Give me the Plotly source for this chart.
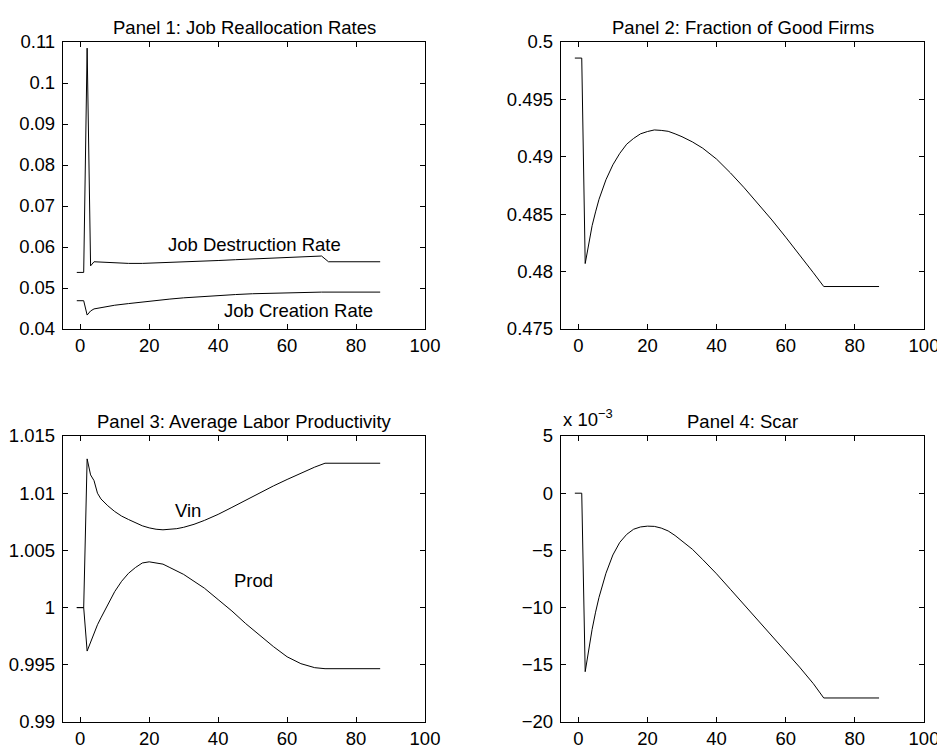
import plotly.graph_objects as go

# ---------------- data ----------------
# Panel 1: Job Reallocation Rates
destr_x = [-1, 0, 1, 2, 3, 4, 6, 8, 10, 14, 18, 22, 26, 30, 35, 40, 45, 50, 55, 60, 65, 70, 71, 72, 87]
destr_y = [0.0538, 0.0538, 0.0538, 0.1085, 0.0554, 0.0564, 0.0563, 0.0562, 0.0561, 0.0560, 0.0560,
           0.0561, 0.0562, 0.0563, 0.0565, 0.0567, 0.0569, 0.0571, 0.0573, 0.0575, 0.0577, 0.0578,
           0.0571, 0.0564, 0.0564]
creat_x = [-1, 0, 1, 2, 3, 4, 6, 8, 10, 14, 18, 22, 26, 30, 35, 40, 45, 50, 55, 60, 65, 70, 87]
creat_y = [0.0469, 0.0469, 0.0469, 0.0434, 0.0444, 0.0449, 0.0452, 0.0455, 0.0458, 0.0462, 0.0466,
           0.0470, 0.0473, 0.0476, 0.0479, 0.0482, 0.0484, 0.0486, 0.0487, 0.0488, 0.0489, 0.0490,
           0.0490]

# Panel 2: Fraction of Good Firms
good_x = [-1, 0, 1, 2, 3, 4, 5, 6, 8, 10, 12, 14, 16, 18, 20, 22, 24, 26, 28, 30, 33, 36, 40, 44,
          48, 52, 56, 60, 64, 68, 71, 87]
good_y = [0.4986, 0.4986, 0.4986, 0.4807, 0.4825, 0.4840, 0.4852, 0.4863, 0.4880, 0.4893, 0.4903,
          0.4911, 0.4916, 0.4920, 0.4922, 0.49234, 0.4923, 0.49222, 0.4920, 0.49175, 0.4913, 0.49075,
          0.4898, 0.4886, 0.4873, 0.4859, 0.4845, 0.4830, 0.4815, 0.4799, 0.4787, 0.4787]

# Panel 3: Average Labor Productivity
prod_x = [-1, 0, 1, 2, 3, 4, 5, 6, 8, 10, 12, 14, 16, 18, 20, 22, 24, 26, 28, 30, 33, 36, 40, 44,
          48, 52, 56, 60, 64, 68, 71, 87]
vin_y = [1.0, 1.0, 1.0, 1.0130, 1.0116, 1.0111, 1.0100, 1.0095, 1.0089, 1.0084, 1.0080, 1.0077,
         1.00742, 1.00715, 1.00697, 1.00685, 1.00680, 1.00682, 1.00690, 1.00702, 1.00728, 1.00762,
         1.00815, 1.00876, 1.0094, 1.01003, 1.01063, 1.01120, 1.01175, 1.01228, 1.01262, 1.01262]
prod_y = [1.0, 1.0, 1.0, 0.9962, 0.9970, 0.9977, 0.9985, 0.9991, 1.0003, 1.0014, 1.0023, 1.0030,
          1.0035, 1.0039, 1.0040, 1.0039, 1.0038, 1.0035, 1.0032, 1.0029, 1.0023, 1.0017, 1.0007,
          0.9997, 0.9986, 0.9976, 0.9966, 0.9957, 0.9951, 0.99475, 0.99466, 0.99466]

# Panel 4: Scar (units of 1e-3)
scar_x = [-1, 0, 1, 2, 3, 4, 5, 6, 8, 10, 12, 14, 16, 18, 20, 22, 24, 26, 28, 30, 33, 36, 40, 44,
          48, 52, 56, 60, 64, 68, 71, 87]
scar_y = [0.0, 0.0, 0.0, -15.6, -13.6, -11.9, -10.4, -9.1, -7.0, -5.4, -4.3, -3.6, -3.15, -2.95,
          -2.88, -2.9, -3.05, -3.3, -3.7, -4.15, -4.9, -5.8, -7.05, -8.4, -9.75, -11.1, -12.45,
          -13.8, -15.2, -16.65, -17.9, -17.9]

titles = ["Panel 1: Job Reallocation Rates", "Panel 2: Fraction of Good Firms",
          "Panel 3: Average Labor Productivity", "Panel 4: Scar"]
y_ranges = [[0.04, 0.11], [0.475, 0.5], [0.99, 1.015], [-20, 5]]
y_dticks = [0.01, 0.005, 0.005, 5]

# ---------------- figure ----------------
OFF = 8                      # page body margin in the browser
W, H = 945 - OFF, 753 - OFF
FONT = "Liberation Sans, Arial, Helvetica, sans-serif"
FS = 18.5


def px_x(a, b):
    return [(a - OFF) / W, (b - OFF) / W]


def px_y(top, bottom):
    return [1 - (bottom - OFF) / H, 1 - (top - OFF) / H]


xdom = [px_x(63, 425), px_x(561, 924)]
ydom = [px_y(42, 329), px_y(436, 722)]
dom_of = [(0, 0), (1, 0), (0, 1), (1, 1)]  # (col, row)

line = dict(color="black", width=1)
fig = go.Figure()
fig.add_trace(go.Scatter(x=destr_x, y=destr_y, mode="lines", line=line, xaxis="x", yaxis="y"))
fig.add_trace(go.Scatter(x=creat_x, y=creat_y, mode="lines", line=line, xaxis="x", yaxis="y"))
fig.add_trace(go.Scatter(x=good_x, y=good_y, mode="lines", line=line, xaxis="x2", yaxis="y2"))
fig.add_trace(go.Scatter(x=prod_x, y=vin_y, mode="lines", line=line, xaxis="x3", yaxis="y3"))
fig.add_trace(go.Scatter(x=prod_x, y=prod_y, mode="lines", line=line, xaxis="x3", yaxis="y3"))
fig.add_trace(go.Scatter(x=scar_x, y=scar_y, mode="lines", line=line, xaxis="x4", yaxis="y4"))

axis_common = dict(showgrid=False, zeroline=False, showline=True, linecolor="black", linewidth=1.3,
                   mirror="ticks", ticks="inside", ticklen=5, tickwidth=1, tickcolor="black",
                   tickfont=dict(family=FONT, size=FS, color="black"), automargin=False)

layout = dict(width=W, height=H, margin=dict(l=0, r=0, t=0, b=0), showlegend=False,
              plot_bgcolor="white", paper_bgcolor="white", template="none")
annotations = []
for i in range(4):
    c, r = dom_of[i]
    sx = "" if i == 0 else str(i + 1)
    layout["xaxis" + sx] = dict(axis_common, domain=xdom[c], range=[-5, 100], tick0=0, dtick=20,
                                anchor="y" + sx)
    layout["yaxis" + sx] = dict(axis_common, domain=ydom[r], range=y_ranges[i], tick0=y_ranges[i][0],
                                dtick=y_dticks[i], anchor="x" + sx, ticklabelstandoff=3)
    annotations.append(dict(text=titles[i], xref="paper", yref="paper",
                            x=(xdom[c][0] + xdom[c][1]) / 2, y=ydom[r][1], xanchor="center",
                            yanchor="bottom", yshift=2, showarrow=False,
                            font=dict(family=FONT, size=FS, color="black")))

txt_font = dict(family=FONT, size=FS, color="black")
annotations += [
    dict(text="Job Destruction Rate", x=25, y=0.0605, xref="x", yref="y", xanchor="left",
         yanchor="middle", showarrow=False, font=txt_font),
    dict(text="Job Creation Rate", x=41, y=0.0445, xref="x", yref="y", xanchor="left",
         yanchor="middle", showarrow=False, font=txt_font),
    dict(text="Vin", x=27, y=1.0085, xref="x3", yref="y3", xanchor="left",
         yanchor="middle", showarrow=False, font=txt_font),
    dict(text="Prod", x=44, y=1.0024, xref="x3", yref="y3", xanchor="left",
         yanchor="middle", showarrow=False, font=txt_font),
    dict(text="x 10<sup>\u22123</sup>", xref="paper", yref="paper", x=xdom[1][0], y=ydom[1][1],
         xanchor="left", yanchor="bottom", yshift=4, showarrow=False, font=txt_font),
]
layout["annotations"] = annotations
fig.update_layout(**layout)

fig.write_html("out.html", config={"displayModeBar": False})
